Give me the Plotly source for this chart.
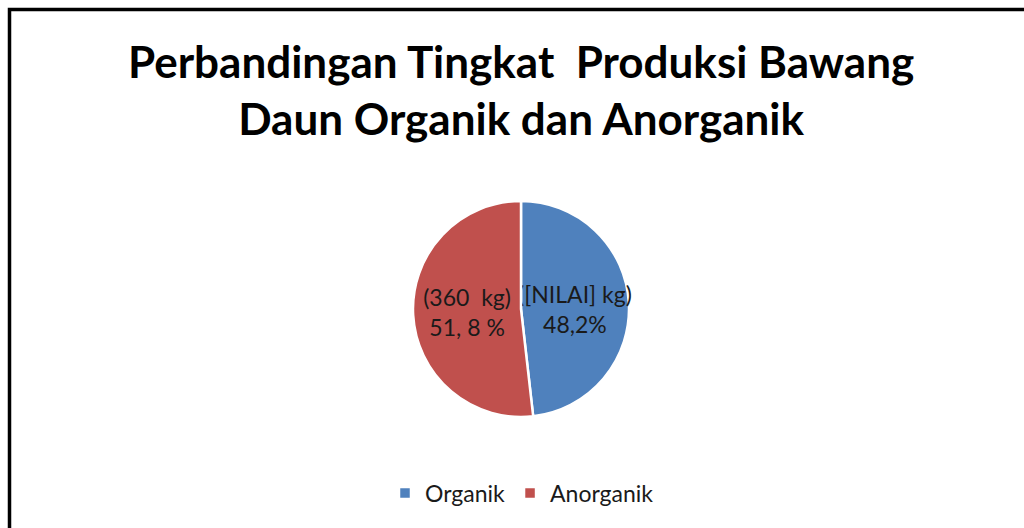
import plotly.graph_objects as go

categories = ["Organik", "Anorganik"]
values = [48.2, 51.8]
slice_text = ["([NILAI] kg)<br>48,2%", "(360  kg)<br>51, 8 %"]
colors = ["#4F81BD", "#C0504D"]
title_text = "<b>Perbandingan Tingkat  Produksi Bawang<br>Daun Organik dan Anorganik</b>"

W, H = 1024, 528
cx, cy, r = 521, 309, 108

fig = go.Figure(go.Pie(
    labels=categories,
    values=values,
    text=slice_text,
    textinfo="text",
    textposition="inside",
    insidetextorientation="horizontal",
    textfont=dict(family="Lato", size=23, color="#1a1a1a"),
    marker=dict(colors=colors, line=dict(color="white", width=2.5)),
    sort=False,
    direction="clockwise",
    rotation=0,
    hoverinfo="label+percent",
    domain=dict(x=[(cx - r) / W, (cx + r) / W], y=[1 - (cy + r) / H, 1 - (cy - r) / H]),
))

fig.update_layout(
    width=W, height=H,
    margin=dict(l=0, r=0, t=0, b=0),
    paper_bgcolor="white",
    font=dict(family="Lato", color="#1a1a1a"),
    showlegend=True,
    uniformtext=dict(minsize=23, mode="show"),
    legend=dict(orientation="h", x=522 / W, xanchor="center", y=1 - 493 / H, yanchor="middle",
                font=dict(size=23, family="Lato", color="#1a1a1a"), itemwidth=30),
    annotations=[dict(text=title_text, x=521 / W, y=1 - 89 / H, xref="paper", yref="paper",
                      xanchor="center", yanchor="middle", showarrow=False,
                      font=dict(size=44, family="Lato", color="black"))],
    shapes=[dict(type="rect", xref="paper", yref="paper",
                 x0=9.5 / W, x1=1.05, y0=-0.05, y1=1 - 9.5 / H,
                 line=dict(color="black", width=3.5))],
)

fig.write_html("out.html", config={"displayModeBar": False},
               post_script="document.body.style.margin='0';document.body.style.overflow='hidden';")
